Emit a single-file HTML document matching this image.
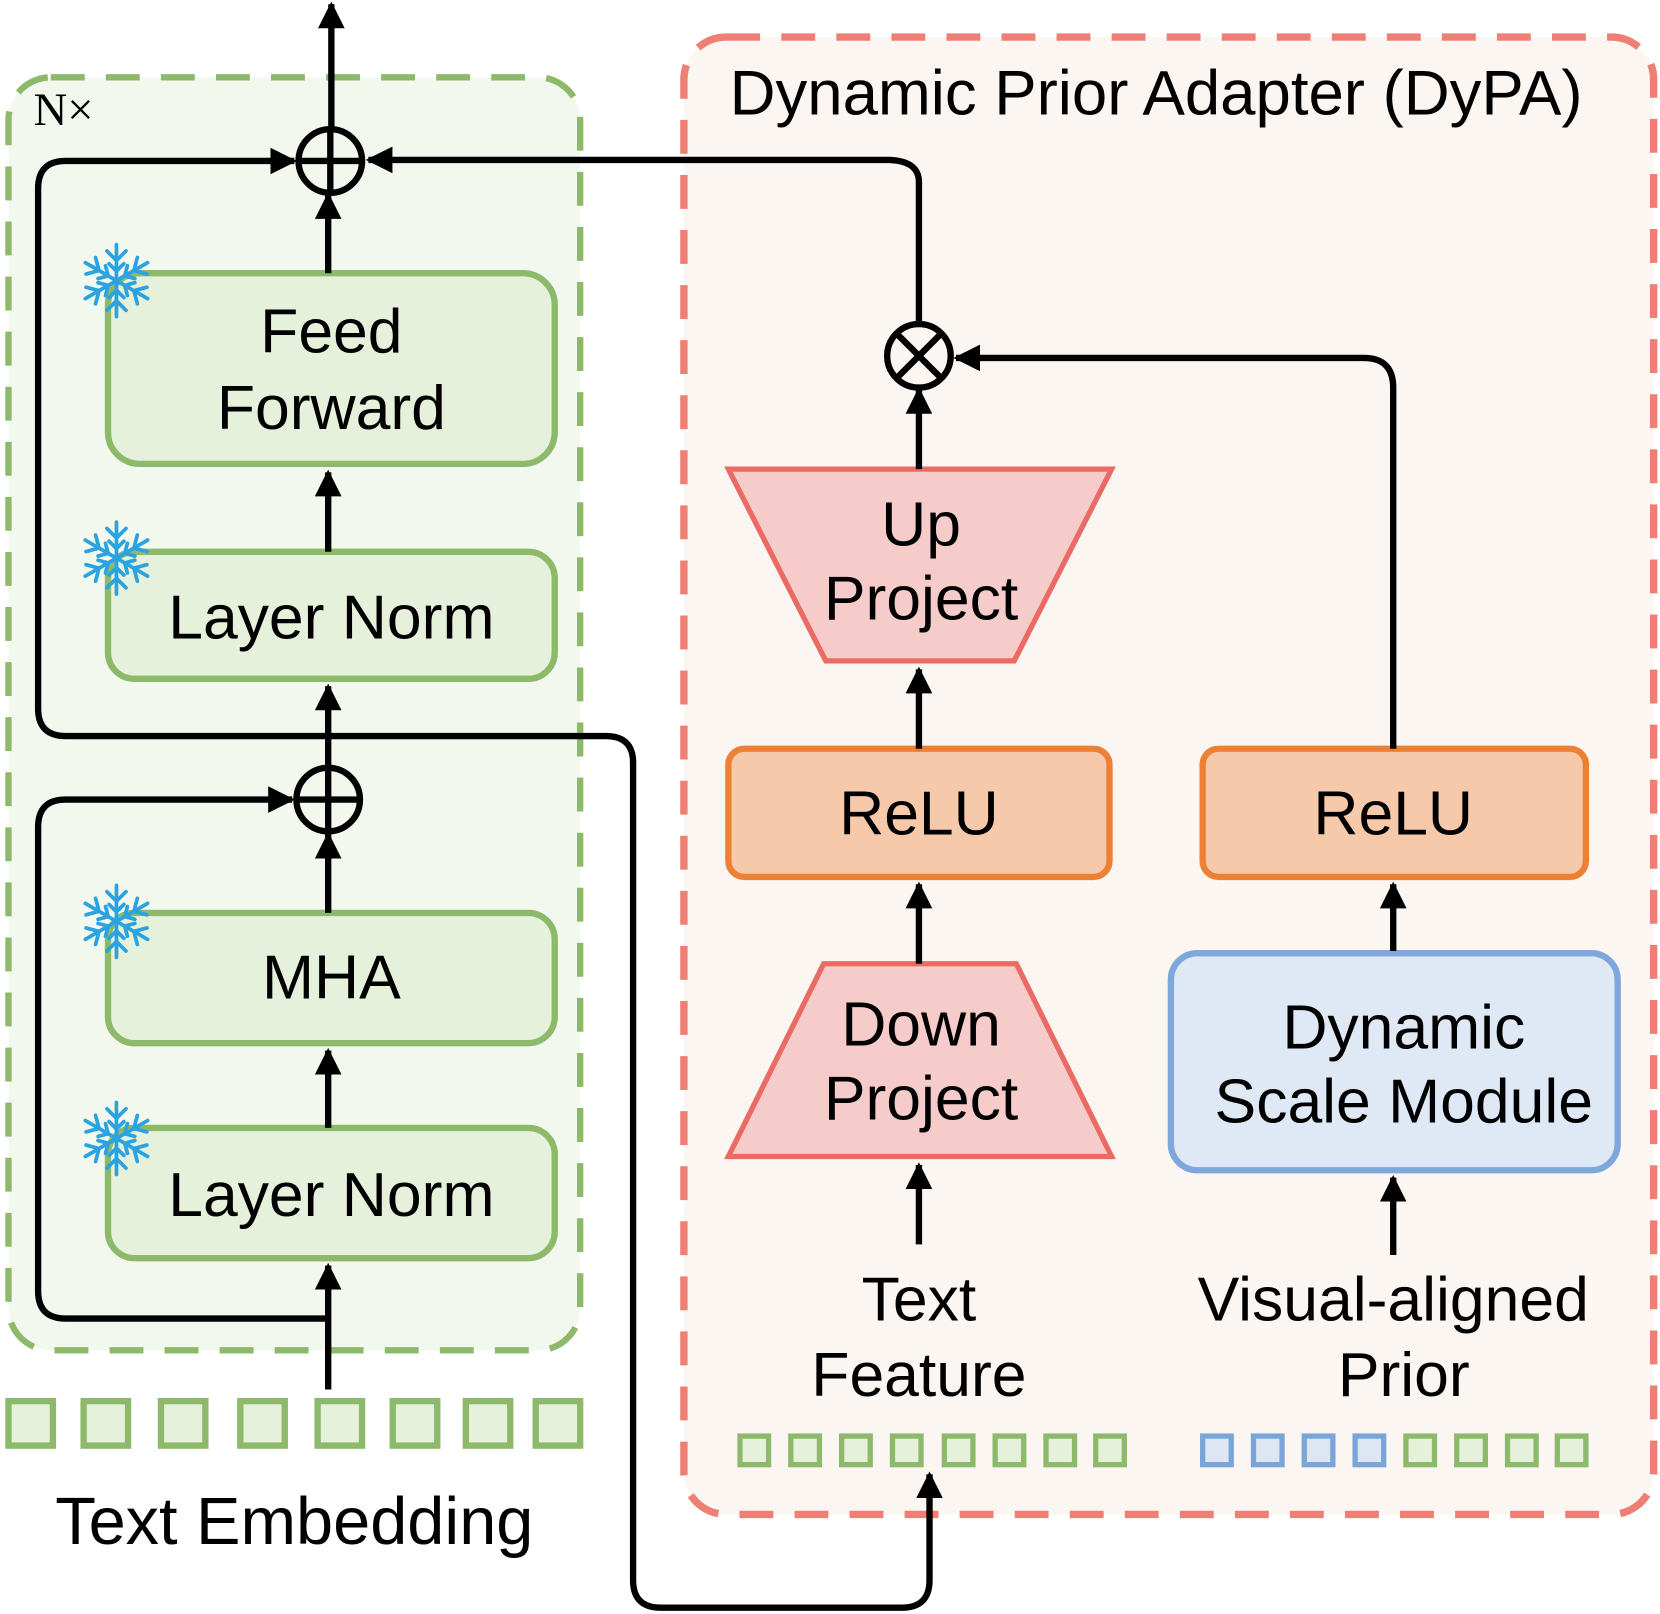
<!DOCTYPE html>
<html><head><meta charset="utf-8"><style>
html,body{margin:0;padding:0;background:#fff;}
svg{display:block;}
text{font-family:"Liberation Sans",sans-serif;fill:#000;text-anchor:middle;}
</style></head><body>
<svg width="1660" height="1614" viewBox="0 0 1568 1524" preserveAspectRatio="none" xmlns="http://www.w3.org/2000/svg">
<defs>
<marker id="a" viewBox="0 0 10 10" refX="9" refY="5" markerWidth="4.2" markerHeight="4.2" markerUnits="strokeWidth" orient="auto"><path d="M0,0 L10,5 L0,10 z" fill="#000"/></marker>
<g id="sf" stroke="#2ba3e0" stroke-width="3.5" fill="none" stroke-linecap="round">
<g id="sp"><line x1="0" y1="0" x2="0" y2="-34"/><polyline points="-9,-28 0,-19 9,-28"/><polyline points="-7,-16 0,-9 7,-16"/></g>
<use href="#sp" transform="rotate(60)"/><use href="#sp" transform="rotate(120)"/><use href="#sp" transform="rotate(180)"/><use href="#sp" transform="rotate(240)"/><use href="#sp" transform="rotate(300)"/>
</g>
</defs>
<rect x="8" y="73" width="540" height="1202" rx="40" fill="#f3f8ee" stroke="#8db96a" stroke-width="6" stroke-dasharray="32,20"/>
<rect x="646" y="35" width="916" height="1395" rx="40" fill="#fcf6f3" stroke="#ee7f74" stroke-width="7" stroke-dasharray="32,20"/>
<text x="1092" y="108" font-size="60">Dynamic Prior Adapter (DyPA)</text>
<text x="60" y="118" font-size="44" style="font-family:'Liberation Serif',serif">N×</text>

<g fill="#e6f1dc" stroke="#8db96a" stroke-width="6">
<rect x="102" y="258" width="422" height="180" rx="30"/>
<rect x="102" y="521" width="422" height="120" rx="25"/>
<rect x="102" y="862" width="422" height="123" rx="25"/>
<rect x="102" y="1065" width="422" height="123" rx="25"/>
</g>
<g font-size="59">
<text x="313" y="333">Feed</text><text x="313" y="405">Forward</text>
<text x="313" y="603">Layer Norm</text>
<text x="313" y="943">MHA</text>
<text x="313" y="1148">Layer Norm</text>
</g>
<use href="#sf" x="110" y="265"/><use href="#sf" x="110" y="527"/><use href="#sf" x="110" y="870"/><use href="#sf" x="110" y="1075"/>

<g stroke="#000" stroke-width="6" fill="none">
<line x1="313" y1="120" x2="313" y2="4" marker-end="url(#a)"/>
<line x1="310" y1="258" x2="310" y2="184" marker-end="url(#a)"/>
<line x1="310" y1="521" x2="310" y2="446" marker-end="url(#a)"/>
<line x1="310" y1="725" x2="310" y2="648" marker-end="url(#a)"/>
<line x1="310" y1="862" x2="310" y2="788" marker-end="url(#a)"/>
<line x1="310" y1="1065" x2="310" y2="992" marker-end="url(#a)"/>
<line x1="310" y1="1312" x2="310" y2="1195" marker-end="url(#a)"/>
<path d="M310 1245 H62 Q36 1245 36 1219 V781 Q36 755 62 755 H276" marker-end="url(#a)"/>
<path d="M598 720 Q598 695 572 695 H62 Q36 695 36 669 V178 Q36 152 62 152 H278" marker-end="url(#a)"/>
<path d="M598 718 V1492 Q598 1518 624 1518 H852 Q878 1518 878 1492 V1392" marker-end="url(#a)"/>
<circle cx="312" cy="152" r="30"/><line x1="282" y1="152" x2="342" y2="152"/><line x1="312" y1="122" x2="312" y2="182"/>
<circle cx="310" cy="755" r="30"/><line x1="280" y1="755" x2="340" y2="755"/><line x1="310" y1="725" x2="310" y2="785"/>
</g>
<g fill="#e6f1dc" stroke="#8db96a" stroke-width="6">
<rect x="8" y="1323" width="42" height="42"/><rect x="79" y="1323" width="42" height="42"/><rect x="152" y="1323" width="42" height="42"/><rect x="227" y="1323" width="42" height="42"/>
<rect x="300" y="1323" width="42" height="42"/><rect x="371" y="1323" width="42" height="42"/><rect x="440" y="1323" width="42" height="42"/><rect x="506" y="1323" width="42" height="42"/>
</g>
<text x="278" y="1458" font-size="63">Text Embedding</text>

<polygon points="688,443 1050,443 958,624 780,624" fill="#f6cccb" stroke="#ea6b63" stroke-width="5"/>
<polygon points="778,910 960,910 1050,1092 688,1092" fill="#f6cccb" stroke="#ea6b63" stroke-width="5"/>
<rect x="688" y="707" width="360" height="121" rx="15" fill="#f7c9ab" stroke="#ec8136" stroke-width="6"/>
<rect x="1136" y="707" width="362" height="121" rx="15" fill="#f7c9ab" stroke="#ec8136" stroke-width="6"/>
<rect x="1106" y="900" width="422" height="205" rx="25" fill="#dfe9f5" stroke="#7ea7dc" stroke-width="6"/>
<g font-size="59">
<text x="870" y="515">Up</text><text x="870" y="585">Project</text>
<text x="868" y="788">ReLU</text><text x="1316" y="788">ReLU</text>
<text x="870" y="987">Down</text><text x="870" y="1057">Project</text>
<text x="1326" y="990">Dynamic</text><text x="1326" y="1060">Scale Module</text>
<text x="868" y="1247">Text</text><text x="868" y="1318">Feature</text>
<text x="1316" y="1247">Visual-aligned</text><text x="1326" y="1318">Prior</text>
</g>
<g stroke="#000" stroke-width="6" fill="none">
<circle cx="868" cy="336" r="30"/><line x1="847" y1="315" x2="889" y2="357"/><line x1="889" y1="315" x2="847" y2="357"/>
<path d="M868 306 V172 Q868 152 840 151 H348" marker-end="url(#a)"/>
<path d="M1316 707 V366 Q1316 338 1288 338 H903" marker-end="url(#a)"/>
<line x1="868" y1="443" x2="868" y2="368" marker-end="url(#a)"/>
<line x1="868" y1="707" x2="868" y2="632" marker-end="url(#a)"/>
<line x1="868" y1="910" x2="868" y2="835" marker-end="url(#a)"/>
<line x1="868" y1="1175" x2="868" y2="1100" marker-end="url(#a)"/>
<line x1="1316" y1="898" x2="1316" y2="835" marker-end="url(#a)"/>
<line x1="1316" y1="1185" x2="1316" y2="1112" marker-end="url(#a)"/>
</g>
<g fill="#e6f1dc" stroke="#8db96a" stroke-width="5">
<rect x="699" y="1356" width="27" height="27"/><rect x="747" y="1356" width="27" height="27"/><rect x="795" y="1356" width="27" height="27"/><rect x="843" y="1356" width="27" height="27"/>
<rect x="892" y="1356" width="27" height="27"/><rect x="940" y="1356" width="27" height="27"/><rect x="988" y="1356" width="27" height="27"/><rect x="1035" y="1356" width="27" height="27"/>
<rect x="1328" y="1356" width="27" height="27"/><rect x="1376" y="1356" width="27" height="27"/><rect x="1424" y="1356" width="27" height="27"/><rect x="1471" y="1356" width="27" height="27"/>
</g>
<g fill="#dce7f3" stroke="#7aa5d8" stroke-width="5">
<rect x="1136" y="1356" width="27" height="27"/><rect x="1184" y="1356" width="27" height="27"/><rect x="1232" y="1356" width="27" height="27"/><rect x="1280" y="1356" width="27" height="27"/>
</g>
</svg>
</body></html>
